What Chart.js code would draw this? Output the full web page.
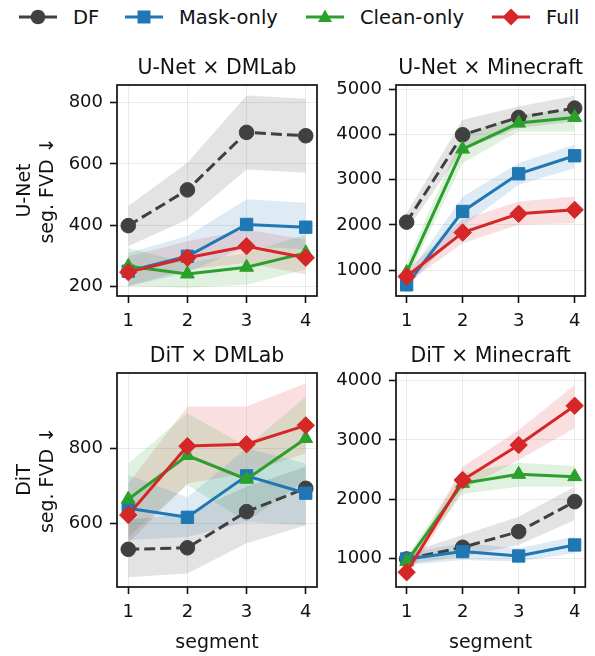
<!DOCTYPE html>
<html><head><meta charset="utf-8">
<script src="https://cdn.jsdelivr.net/npm/chart.js@4.4.1/dist/chart.umd.min.js"></script>
<style>
html,body{margin:0;padding:0;background:#fff;}
body{width:595px;height:656px;position:relative;overflow:hidden;font-family:"DejaVu Sans",sans-serif;}
canvas{position:absolute;}
.li{position:absolute;top:4px;height:26px;display:flex;align-items:center;font-size:19.5px;color:#111;white-space:nowrap;}
.li svg{margin-right:16px;}
</style></head><body>
<div id="legend"></div>
<canvas id="c0"></canvas><canvas id="c1"></canvas><canvas id="c2"></canvas><canvas id="c3"></canvas>
<script>
// ---------- data ----------
const segments = [1, 2, 3, 4];
const xTickLabels = ['1', '2', '3', '4'];
const seriesNames = ['DF', 'Mask-only', 'Clean-only', 'Full'];
const seriesColors = ['#404040', '#1f77b4', '#2ca02c', '#d62728'];
const seriesMarkers = ['circle', 'rect', 'triangle', 'rectRot'];

// U-Net × DMLab
const uDmDF = [398, 515, 703, 692],  uDmDFLo = [331, 418, 582, 571],  uDmDFHi = [462, 604, 824, 813];
const uDmMask = [249, 298, 402, 393], uDmMaskLo = [200, 244, 331, 320], uDmMaskHi = [309, 364, 484, 473];
const uDmClean = [265, 240, 262, 309], uDmCleanLo = [200, 195, 205, 255], uDmCleanHi = [325, 276, 309, 369];
const uDmFull = [246, 293, 331, 293], uDmFullLo = [200, 255, 276, 238], uDmFullHi = [298, 347, 385, 353];
const uDmYTicks = [200, 400, 600, 800];

// U-Net × Minecraft
const uMcDF = [2061, 3991, 4374, 4580], uMcDFLo = [1890, 3659, 4138, 4285], uMcDFHi = [2260, 4322, 4617, 4853];
const uMcMask = [676, 2297, 3129, 3527], uMcMaskLo = [600, 1965, 2886, 3254], uMcMaskHi = [860, 2628, 3365, 3770];
const uMcClean = [950, 3674, 4249, 4374], uMcCleanLo = [786, 3365, 4064, 4064], uMcCleanHi = [1155, 3991, 4433, 4543];
const uMcFull = [860, 1832, 2245, 2333], uMcFullLo = [713, 1597, 2002, 2039], uMcFullHi = [1007, 2112, 2517, 2628];
const uMcYTicks = [1000, 2000, 3000, 4000, 5000];

// DiT × DMLab
const dDmDF = [532, 536, 632, 694], dDmDFLo = [458, 468, 548, 596], dDmDFHi = [610, 627, 698, 751];
const dDmMask = [641, 617, 727, 681], dDmMaskLo = [557, 565, 605, 596], dDmMaskHi = [729, 670, 800, 760];
const dDmClean = [665, 781, 718, 826], dDmCleanLo = [565, 703, 605, 716], dDmCleanHi = [760, 893, 804, 937];
const dDmFull = [623, 806, 811, 861], dDmFullLo = [548, 707, 734, 787], dDmFullHi = [707, 911, 911, 973];
const dDmYTicks = [600, 800];

// DiT × Minecraft
const dMcDF = [989, 1186, 1450, 1957], dMcDFLo = [904, 1028, 1225, 1647], dMcDFHi = [1084, 1394, 1703, 2210];
const dMcMask = [989, 1113, 1039, 1225], dMcMaskLo = [887, 972, 944, 1084], dMcMaskHi = [1084, 1253, 1169, 1366];
const dMcClean = [944, 2266, 2418, 2379], dMcCleanLo = [859, 2086, 2210, 2210], dMcCleanHi = [1028, 2435, 2615, 2559];
const dMcFull = [764, 2322, 2913, 3577], dMcFullLo = [662, 2154, 2660, 3195], dMcFullHi = [859, 2548, 3167, 3926];
const dMcYTicks = [1000, 2000, 3000, 4000];

// ---------- styling ----------
const FONT = 'DejaVu Sans';
const TXT = '#111';
const markerRadius = {circle: 7.3, rect: 8.7, triangle: 8, rectRot: 8.7};
Chart.defaults.font.family = FONT;
Chart.defaults.color = TXT;

function hexA(hex, a) {
  const n = parseInt(hex.slice(1), 16);
  return `rgba(${(n >> 16) & 255},${(n >> 8) & 255},${n & 255},${a})`;
}

// legend (HTML)
const legendX = [19, 125, 306, 492];
const legend = document.getElementById('legend');
seriesNames.forEach((name, i) => {
  const c = seriesColors[i];
  let mk = '';
  const cx = 19, cy = 13;
  if (seriesMarkers[i] === 'circle') mk = `<circle cx="${cx}" cy="${cy}" r="7.3" fill="${c}"/>`;
  if (seriesMarkers[i] === 'rect') mk = `<rect x="${cx-6.5}" y="${cy-6.5}" width="13" height="13" fill="${c}"/>`;
  if (seriesMarkers[i] === 'triangle') mk = `<polygon points="${cx},${cy-7.5} ${cx+7},${cy+5} ${cx-7},${cy+5}" fill="${c}"/>`;
  if (seriesMarkers[i] === 'rectRot') mk = `<polygon points="${cx},${cy-8.5} ${cx+8.5},${cy} ${cx},${cy+8.5} ${cx-8.5},${cy}" fill="${c}"/>`;
  const d = document.createElement('div');
  d.className = 'li';
  d.style.left = legendX[i] + 'px';
  d.innerHTML = `<svg width="38" height="26"><line x1="0" y1="${cy}" x2="38" y2="${cy}" stroke="${c}" stroke-width="3"/>${mk}</svg><span>${name}</span>`;
  legend.appendChild(d);
});

const boxPlugin = {
  id: 'box',
  afterDatasetsDraw(chart) {
    const {ctx, chartArea: a} = chart;
    ctx.save();
    ctx.strokeStyle = TXT; ctx.lineWidth = 1.7;
    ctx.strokeRect(a.left, a.top, a.right - a.left, a.bottom - a.top);
    ctx.restore();
  }
};

const TITLE_SIZE = 20.5, TITLE_PB = 4;
const titleH = TITLE_SIZE * 1.2 + TITLE_PB;

function makePanel(p) {
  const cv = document.getElementById(p.id);
  cv.width = p.w; cv.height = p.h;
  cv.style.left = p.x + 'px'; cv.style.top = p.y + 'px';
  cv.style.width = p.w + 'px'; cv.style.height = p.h + 'px';
  const datasets = [];
  p.series.forEach((s, i) => {
    const lo = datasets.length;
    datasets.push({data: segments.map((x, k) => ({x, y: s.lo[k]})), showLine: true, borderWidth: 0,
      borderColor: 'rgba(0,0,0,0)', pointRadius: 0, fill: false, order: 100 + i});
    datasets.push({data: segments.map((x, k) => ({x, y: s.hi[k]})), showLine: true, borderWidth: 0,
      borderColor: 'rgba(0,0,0,0)', pointRadius: 0, fill: {target: lo}, backgroundColor: hexA(seriesColors[i], 0.15), order: 100 + i});
  });
  p.series.forEach((s, i) => {
    const c = seriesColors[i];
    datasets.push({label: seriesNames[i], data: segments.map((x, k) => ({x, y: s.mean[k]})),
      borderColor: c, backgroundColor: c, borderWidth: 3, borderDash: i === 0 ? [11, 5] : [],
      pointStyle: seriesMarkers[i], pointRadius: markerRadius[seriesMarkers[i]], pointBorderWidth: 1,
      pointBackgroundColor: c, pointBorderColor: c, fill: false, tension: 0, order: 10 - i, clip: false});
  });
  const yW = p.area.l - p.x;
  const xH = p.y + p.h - p.area.b;
  new Chart(cv, {
    type: 'line',
    data: {datasets},
    plugins: [boxPlugin],
    options: {
      responsive: false, animation: false, devicePixelRatio: 1,
      layout: {padding: {top: p.area.t - p.y - titleH, left: 0, right: p.x + p.w - p.area.r, bottom: 0}},
      plugins: {
        legend: {display: false}, tooltip: {enabled: false},
        filler: {drawTime: 'beforeDatasetsDraw'},
        title: {display: true, text: p.title, fullSize: false, color: TXT,
          font: {size: TITLE_SIZE, weight: 'normal', family: FONT}, padding: {top: 0, bottom: TITLE_PB}}
      },
      scales: {
        x: {type: 'linear', min: 0.81, max: 4.19,
          afterBuildTicks: sc => { sc.ticks = segments.map(v => ({value: v})); },
          afterFit: sc => { sc.height = xH; sc.paddingLeft = 0; sc.paddingRight = 0; },
          ticks: {callback: (v, i) => xTickLabels[i], font: {size: 18}, color: TXT, padding: 8, maxRotation: 0, autoSkip: false},
          grid: {color: 'rgba(0,0,0,0.08)', lineWidth: 1, tickColor: TXT, tickWidth: 1.6, tickLength: 7},
          border: {display: false},
          title: {display: !!p.xlabel, text: p.xlabel || '', color: TXT, font: {size: 19}, padding: {top: 0, bottom: 2}}
        },
        y: {type: 'linear', min: p.ymin, max: p.ymax,
          afterBuildTicks: sc => { sc.ticks = p.yticks.map(v => ({value: v})); },
          afterFit: sc => { sc.width = yW; sc.paddingTop = 0; sc.paddingBottom = 0; },
          ticks: {callback: (v, i) => String(p.yticks[i]), font: {size: 18}, color: TXT, padding: 7, autoSkip: false},
          grid: {color: 'rgba(0,0,0,0.08)', lineWidth: 1, tickColor: TXT, tickWidth: 1.6, tickLength: 7},
          border: {display: false},
          title: {display: !!p.ylabel, text: p.ylabel || '', color: TXT, font: {size: 19}, padding: {top: 14, bottom: 0}}
        }
      }
    }
  });
}

const rowTop = {y: 40, h: 300, t: 85, b: 296};
const rowBot = {y: 340, h: 316, t: 373, b: 587};
const colL = {x: 0, w: 330, l: 117, r: 317};
const colR = {x: 330, w: 265, l: 396, r: 593};

makePanel({id: 'c0', x: colL.x, y: rowTop.y, w: colL.w, h: rowTop.h,
  area: {l: colL.l, r: colL.r, t: rowTop.t, b: rowTop.b}, title: 'U-Net × DMLab',
  ylabel: ['U-Net', 'seg. FVD ↓'], xlabel: null, ymin: 168, ymax: 858, yticks: uDmYTicks,
  series: [{mean: uDmDF, lo: uDmDFLo, hi: uDmDFHi}, {mean: uDmMask, lo: uDmMaskLo, hi: uDmMaskHi},
           {mean: uDmClean, lo: uDmCleanLo, hi: uDmCleanHi}, {mean: uDmFull, lo: uDmFullLo, hi: uDmFullHi}]});
makePanel({id: 'c1', x: colR.x, y: rowTop.y, w: colR.w, h: rowTop.h,
  area: {l: colR.l, r: colR.r, t: rowTop.t, b: rowTop.b}, title: 'U-Net × Minecraft',
  ylabel: null, xlabel: null, ymin: 430, ymax: 5090, yticks: uMcYTicks,
  series: [{mean: uMcDF, lo: uMcDFLo, hi: uMcDFHi}, {mean: uMcMask, lo: uMcMaskLo, hi: uMcMaskHi},
           {mean: uMcClean, lo: uMcCleanLo, hi: uMcCleanHi}, {mean: uMcFull, lo: uMcFullLo, hi: uMcFullHi}]});
makePanel({id: 'c2', x: colL.x, y: rowBot.y, w: colL.w, h: rowBot.h,
  area: {l: colL.l, r: colL.r, t: rowBot.t, b: rowBot.b}, title: 'DiT × DMLab',
  ylabel: ['DiT', 'seg. FVD ↓'], xlabel: 'segment', ymin: 432, ymax: 1000, yticks: dDmYTicks,
  series: [{mean: dDmDF, lo: dDmDFLo, hi: dDmDFHi}, {mean: dDmMask, lo: dDmMaskLo, hi: dDmMaskHi},
           {mean: dDmClean, lo: dDmCleanLo, hi: dDmCleanHi}, {mean: dDmFull, lo: dDmFullLo, hi: dDmFullHi}]});
makePanel({id: 'c3', x: colR.x, y: rowBot.y, w: colR.w, h: rowBot.h,
  area: {l: colR.l, r: colR.r, t: rowBot.t, b: rowBot.b}, title: 'DiT × Minecraft',
  ylabel: null, xlabel: 'segment', ymin: 515, ymax: 4130, yticks: dMcYTicks,
  series: [{mean: dMcDF, lo: dMcDFLo, hi: dMcDFHi}, {mean: dMcMask, lo: dMcMaskLo, hi: dMcMaskHi},
           {mean: dMcClean, lo: dMcCleanLo, hi: dMcCleanHi}, {mean: dMcFull, lo: dMcFullLo, hi: dMcFullHi}]});
</script>
</body></html>
